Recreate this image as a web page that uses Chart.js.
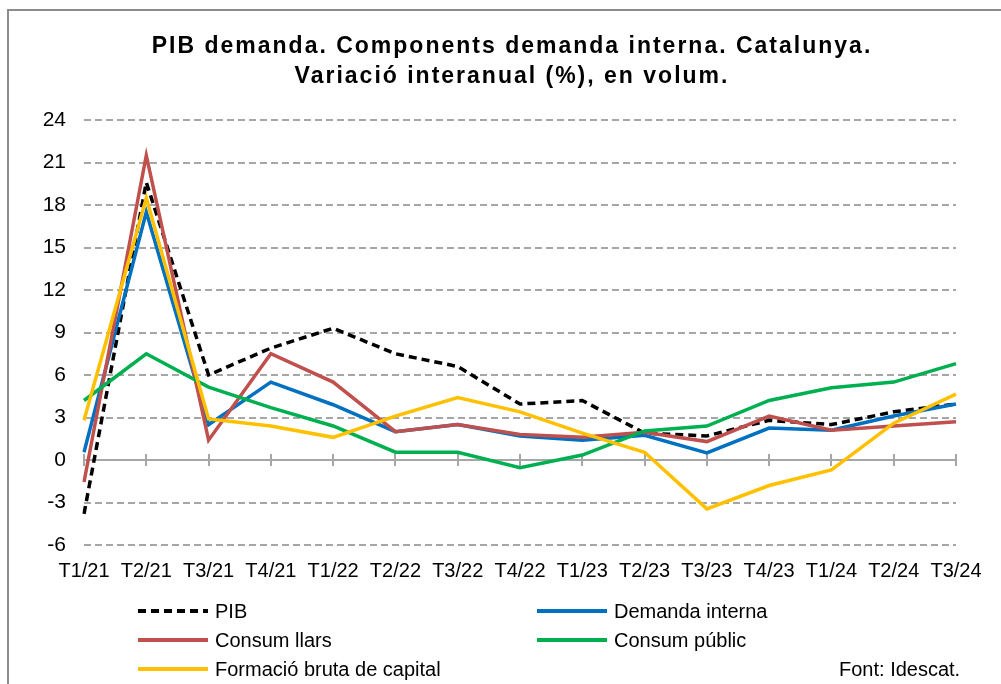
<!DOCTYPE html>
<html>
<head>
<meta charset="utf-8">
<script src="https://cdn.jsdelivr.net/npm/chart.js"></script>
<style>
  body { margin: 0; background: #fff; }
  canvas { display: block; }
</style>
</head>
<body>
<canvas id="grafico" width="1001" height="684"></canvas>
<script>
// Dades: variació interanual (%), llegides del gràfic d'Idescat
const trimestres = ['T1/21', 'T2/21', 'T3/21', 'T4/21', 'T1/22', 'T2/22', 'T3/22', 'T4/22',
                    'T1/23', 'T2/23', 'T3/23', 'T4/23', 'T1/24', 'T2/24', 'T3/24'];
const pib = [-3.8, 19.6, 6.0, 7.9, 9.3, 7.5, 6.6, 3.95, 4.2, 1.9, 1.7, 2.8, 2.5, 3.4, 3.95];
const demandaInterna = [0.55, 17.5, 2.5, 5.5, 3.9, 2.0, 2.5, 1.7, 1.4, 1.75, 0.5, 2.25, 2.1, 3.1, 3.95];
const consumLlars = [-1.55, 21.5, 1.4, 7.5, 5.5, 2.0, 2.5, 1.8, 1.6, 1.95, 1.3, 3.1, 2.1, 2.4, 2.7];
const consumPublic = [4.2, 7.5, 5.15, 3.7, 2.4, 0.55, 0.55, -0.55, 0.35, 2.05, 2.4, 4.2, 5.1, 5.5, 6.8];
const formacioCapital = [2.8, 18.5, 2.9, 2.4, 1.6, 3.1, 4.4, 3.4, 1.9, 0.55, -3.45, -1.8, -0.7, 2.6, 4.65];
const titol = ['PIB demanda. Components demanda interna. Catalunya.', 'Variació interanual (%), en volum.'];
const font = 'Font: Idescat.';

const FONT = 'Arial, "Liberation Sans", sans-serif';
const GRIS = '#a6a6a6';

function serie(label, data, color, ordre, dash) {
    return {
        label: label,
        data: data,
        borderColor: color,
        backgroundColor: color,
        borderWidth: 3.5,
        borderDash: dash || [],
        borderCapStyle: 'butt',
        borderJoinStyle: 'miter',
        pointRadius: 0,
        tension: 0,
        order: ordre
    };
}

// Marc, títol, eix del zero i llegenda
const decoracio = {
    id: 'decoracio',
    beforeDraw(chart) {
        const c = chart.ctx;
        c.save();
        c.fillStyle = '#fff';
        c.fillRect(0, 0, chart.width, chart.height);
        c.strokeStyle = '#8c8c8c';
        c.lineWidth = 2;
        c.beginPath();
        c.moveTo(8, chart.height + 5);
        c.lineTo(8, 10);
        c.lineTo(chart.width + 5, 10);
        c.stroke();

        c.fillStyle = '#000';
        c.font = 'bold 23px ' + FONT;
        c.textAlign = 'center';
        c.textBaseline = 'middle';
        if ('letterSpacing' in c) c.letterSpacing = '2px';
        c.fillText(titol[0], 512, 47);
        c.fillText(titol[1], 512, 77);
        c.restore();
    },
    beforeDatasetsDraw(chart) {
        const c = chart.ctx;
        const x = chart.scales.x, y = chart.scales.y;
        const y0 = y.getPixelForValue(0);
        c.save();
        c.strokeStyle = GRIS;
        c.lineWidth = 2;
        c.beginPath();
        c.moveTo(chart.chartArea.left, y0);
        c.lineTo(chart.chartArea.right, y0);
        for (let i = 0; i < trimestres.length; i++) {
            const px = Math.round(x.getPixelForValue(i));
            c.moveTo(px, y0 - 6);
            c.lineTo(px, y0 + 6);
        }
        c.stroke();
        c.restore();
    },
    afterDraw(chart) {
        const c = chart.ctx;
        const posicions = [[138, 611], [537, 611], [138, 640], [537, 640], [138, 669]];
        c.save();
        c.font = '20px ' + FONT;
        c.textBaseline = 'middle';
        c.fillStyle = '#000';
        chart.data.datasets.forEach((ds, i) => {
            const [lx, ly] = posicions[i];
            c.strokeStyle = ds.borderColor;
            c.lineWidth = 4;
            c.setLineDash(ds.borderDash);
            c.beginPath();
            c.moveTo(lx, ly);
            c.lineTo(lx + 70, ly);
            c.stroke();
            c.fillText(ds.label, lx + 77, ly + 1);
        });
        c.fillText(font, 839, 670);
        c.restore();
    }
};

new Chart(document.getElementById('grafico'), {
    type: 'line',
    data: {
        labels: trimestres,
        datasets: [
            serie('PIB', pib, '#000000', 4, [8, 5]),
            serie('Demanda interna', demandaInterna, '#0070C0', 3),
            serie('Consum llars', consumLlars, '#C0504D', 2),
            serie('Consum públic', consumPublic, '#00B050', 1),
            serie('Formació bruta de capital', formacioCapital, '#FFC000', 0)
        ]
    },
    options: {
        responsive: false,
        animation: false,
        layout: { padding: { left: 0, right: 45, top: 120, bottom: 89 } },
        plugins: {
            legend: { display: false },
            tooltip: { enabled: false },
            title: { display: false }
        },
        scales: {
            x: {
                offset: false,
                grid: { display: false, drawTicks: false },
                border: { display: false },
                ticks: {
                    color: '#000',
                    font: { family: FONT, size: 20 },
                    padding: 14,
                    maxRotation: 0,
                    autoSkip: false
                },
                afterFit(scale) { scale.height = 50; }
            },
            y: {
                min: -6,
                max: 24,
                grid: {
                    drawTicks: false,
                    lineWidth: 2,
                    color: (ctx) => ctx.tick && ctx.tick.value === 0 ? 'rgba(0,0,0,0)' : GRIS
                },
                border: { display: false, dash: [7, 4] },
                ticks: {
                    stepSize: 3,
                    color: '#000',
                    font: { family: FONT, size: 21 },
                    padding: 18
                },
                afterFit(scale) { scale.width = 84; }
            }
        }
    },
    plugins: [decoracio]
});
</script>
</body>
</html>
